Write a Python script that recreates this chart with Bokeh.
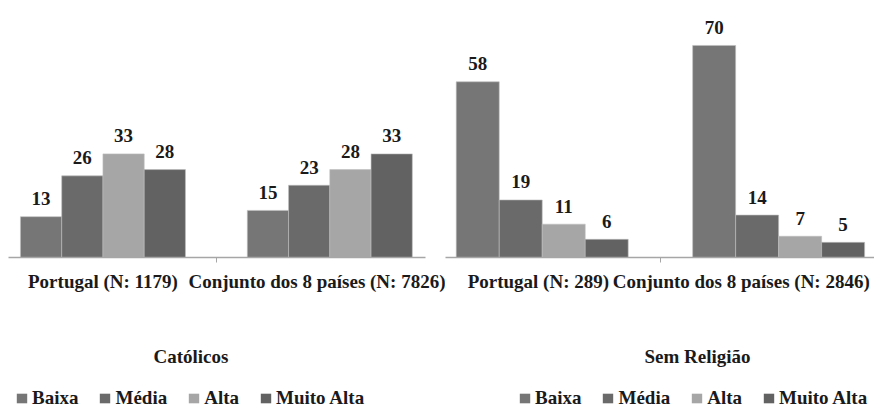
from bokeh.plotting import figure
from bokeh.models import Range1d, FixedTicker, Legend, LegendItem, Label, ColumnDataSource
from bokeh.layouts import row, column
from bokeh.embed import file_html
from bokeh.resources import INLINE
from bokeh.core.properties import value

# ---- data ----
levels = ["Baixa", "Média", "Alta", "Muito Alta"]
colors = ["#767676", "#6a6a6a", "#a6a6a6", "#626262"]

cat_title = "Católicos"
cat_groups = ["Portugal (N: 1179)", "Conjunto dos 8 países (N: 7826)"]
cat_baixa = [13, 15]
cat_media = [26, 23]
cat_alta = [33, 28]
cat_muito = [28, 33]

sem_title = "Sem Religião"
sem_groups = ["Portugal (N: 289)", "Conjunto dos 8 países (N: 2846)"]
sem_baixa = [58, 70]
sem_media = [19, 14]
sem_alta = [11, 7]
sem_muito = [6, 5]

FONT_NAME = "Liberation Serif"
FONT = value(FONT_NAME)
GROUP_GAP = 1.5
N = len(levels)
FRAME_H = 249
AXIS_H = 40
TOTAL_W, TOTAL_H = 874, 409
TOP_H = 8 + FRAME_H + AXIS_H
TXT = dict(text_font_style="bold", text_font_size="19px", text_color="#1a1a1a")


def make_panel(groups, series, x_start, x_end, y_end, frame_w, border_l, border_r, label_ticks):
    p = figure(frame_width=frame_w, frame_height=FRAME_H,
               x_range=Range1d(x_start, x_end), y_range=Range1d(0, y_end),
               toolbar_location=None, output_backend="svg", y_axis_location=None,
               min_border_left=border_l, min_border_right=border_r, min_border_top=8,
               min_border_bottom=AXIS_H, outline_line_color=None)
    p.xgrid.visible = False
    p.ygrid.visible = False

    for s, (col, vals) in enumerate(zip(colors, series)):
        xs = [g * (N + GROUP_GAP) + s + 0.5 for g in range(len(groups))]
        src = ColumnDataSource(dict(x=xs, top=vals, lab=[str(v) for v in vals]))
        p.vbar(x="x", top="top", width=1.0, source=src, fill_color=col,
               line_color="#bdbdbd", line_width=0.6)
        p.text(x="x", y="top", text="lab", source=src, text_align="center",
               text_baseline="alphabetic", y_offset=-18, text_font=FONT, **TXT)

    ax = p.xaxis[0]
    ax.ticker = FixedTicker(ticks=label_ticks, minor_ticks=[N + GROUP_GAP / 2])
    ax.major_label_overrides = {t: g for t, g in zip(label_ticks, groups)}
    ax.major_tick_out = 0
    ax.major_tick_in = 0
    ax.minor_tick_in = 0
    ax.minor_tick_out = 5
    ax.minor_tick_line_color = "#a6a6a6"
    ax.axis_line_color = "#a6a6a6"
    ax.axis_line_width = 1.5
    ax.major_label_standoff = 8
    ax.major_label_text_font = FONT_NAME
    ax.major_label_text_font_style = "bold"
    ax.major_label_text_font_size = "19px"
    ax.major_label_text_color = "#1a1a1a"
    return p


p1 = make_panel(cat_groups, [cat_baixa, cat_media, cat_alta, cat_muito],
                -0.29, 9.82, 79.3, 417, 8, 20, [2.0, 7.26])
p2 = make_panel(sem_groups, [sem_baixa, sem_media, sem_alta, sem_muito],
                -0.25, 9.73, 82.2, 429, 0, 0, [1.91, 6.63])

# ---- bottom strip: panel titles and legends ----
pb = figure(width=TOTAL_W, height=TOTAL_H - TOP_H, x_range=Range1d(0, 1), y_range=Range1d(0, 1),
            toolbar_location=None, output_backend="svg", x_axis_location=None,
            y_axis_location=None, min_border=0, outline_line_color=None)
pb.xgrid.visible = False
pb.ygrid.visible = False

# swatch renderers for the legends (zero-size bars, only their colours are shown)
swatches = [pb.vbar(x=[0], top=[0], width=0, fill_color=c, line_color=None) for c in colors]

for title, tx, lx in [(cat_title, 153, 16), (sem_title, 644, 519)]:
    pb.add_layout(Label(x=tx, y=53, x_units="screen", y_units="screen", text=title,
                        text_baseline="alphabetic", text_align="left",
                        text_font=FONT_NAME, **TXT))
    leg = Legend(items=[LegendItem(label=lv, renderers=[r]) for lv, r in zip(levels, swatches)],
                 orientation="horizontal", location=(lx - 1, 0),
                 glyph_width=13, glyph_height=12, label_standoff=4, spacing=20,
                 padding=0, margin=0, border_line_color=None, background_fill_alpha=0,
                 label_text_font=FONT_NAME, label_text_font_style="bold",
                 label_text_font_size="19px", label_text_color="#1a1a1a")
    pb.add_layout(leg)

layout = column(row(p1, p2), pb)
open("out.html", "w").write(file_html(layout, INLINE))
